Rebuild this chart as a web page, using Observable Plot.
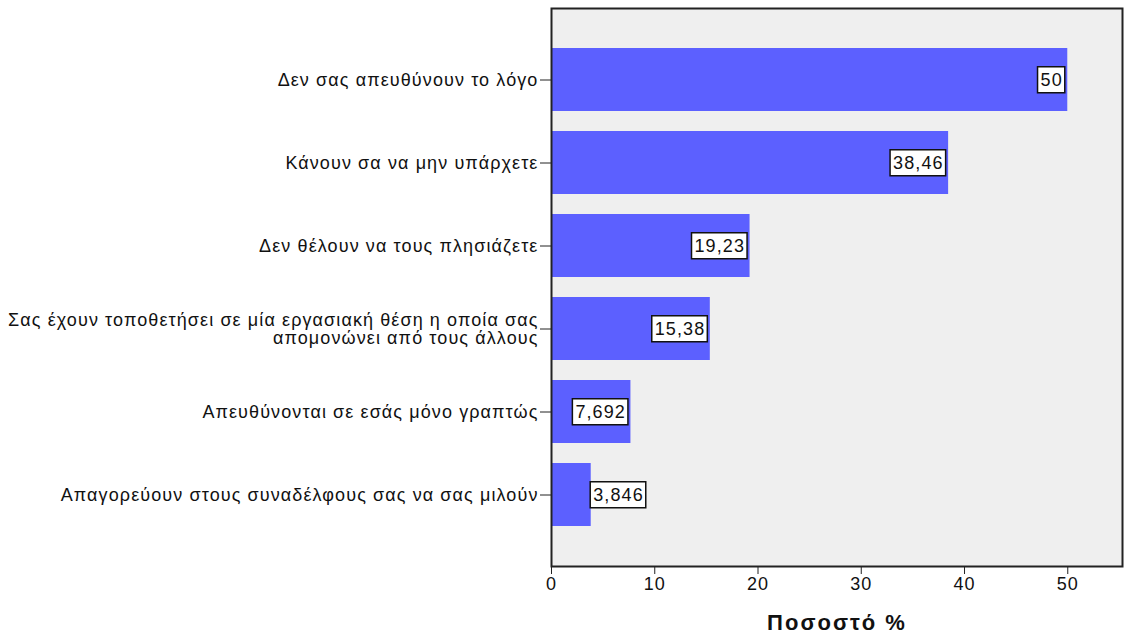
<!DOCTYPE html>
<html><head><meta charset="utf-8">
<script src="https://cdn.jsdelivr.net/npm/d3@7"></script>
<script src="https://cdn.jsdelivr.net/npm/@observablehq/plot@0.6"></script>
<style>
body{margin:0;background:#fff}
#chart svg{display:block}
</style>
</head><body><div id="chart"></div>
<script>
const categories = [
  "Δεν σας απευθύνουν το λόγο",
  "Κάνουν σα να μην υπάρχετε",
  "Δεν θέλουν να τους πλησιάζετε",
  "Σας έχουν τοποθετήσει σε μία εργασιακή θέση η οποία σας\nαπομονώνει από τους άλλους",
  "Απευθύνονται σε εσάς μόνο γραπτώς",
  "Απαγορεύουν στους συναδέλφους σας να σας μιλούν"
];
const values = [50, 38.46, 19.23, 15.38, 7.692, 3.846];
const valueLabels = ["50", "38,46", "19,23", "15,38", "7,692", "3,846"];
const xTicks = [0, 10, 20, 30, 40, 50];
const xTitle = "Ποσοστό %";

const data = categories.map((c, i) => ({category: c, value: values[i], label: valueLabels[i]}));

const chart = Plot.plot({
  width: 1125, height: 639,
  marginLeft: 551, marginRight: 3, marginTop: 8, marginBottom: 73,
  style: {fontFamily: "'Liberation Sans', Arial, sans-serif", fontSize: "18px", letterSpacing: "1.1px", color: "#111", background: "#fff"},
  x: {domain: [0, 55.3], label: null},
  y: {domain: categories, paddingInner: 0.24, paddingOuter: 0.45, label: null},
  marks: [
    Plot.frame({fill: "#efefef"}),
    Plot.barX(data, {y: "category", x: "value", fill: "#5c60ff"}),
    Plot.frame({stroke: "#222", strokeWidth: 2}),
    Plot.axisX({ticks: xTicks, tickSize: 8, tickPadding: 3, tickFormat: d => String(d), label: null, fontSize: 18, stroke: "#222"}),
    Plot.axisY({tickSize: 11, tickPadding: 2, label: null, fontSize: 18, lineHeight: 1.0, stroke: "#222"}),
    Plot.text(data, {y: "category", x: "value", text: "label", textAnchor: "end", dx: -5, fontSize: 18, fill: "#111", className: "vlabel"}),
    Plot.text([xTitle], {frameAnchor: "bottom", dy: 63, fontWeight: "bold", fontSize: 22, fill: "#111", className: "xtitle"})
  ]
});
document.getElementById("chart").appendChild(chart);
chart.querySelectorAll("g.xtitle text").forEach(t => t.style.letterSpacing = "2px");

// white boxed value labels; move outside bar when they do not fit
const xs = chart.scale("x");
const texts = chart.querySelectorAll("g.vlabel text");
texts.forEach((t, i) => {
  const d = data[i];
  const barW = xs.apply(d.value) - xs.apply(0);
  let bb = t.getBBox();
  if (bb.width + 10 > barW) {
    t.setAttribute("text-anchor", "start");
    const tr = t.getAttribute("transform");
    t.setAttribute("transform", tr + " translate(7,0)");
  }
  const r = document.createElementNS("http://www.w3.org/2000/svg", "rect");
  const m = t.getCTM();
  const pc = t.parentNode.getCTM();
  const local = t.getBBox();
  const tm = (pc.inverse()).multiply(m);
  r.setAttribute("x", tm.e + local.x - 3);
  r.setAttribute("y", tm.f + local.y - 3);
  r.setAttribute("width", local.width + 5);
  r.setAttribute("height", local.height + 6);
  r.setAttribute("fill", "#fff");
  r.setAttribute("stroke", "#111");
  r.setAttribute("stroke-width", "1.5");
  t.parentNode.insertBefore(r, t);
});
</script>
</body></html>
